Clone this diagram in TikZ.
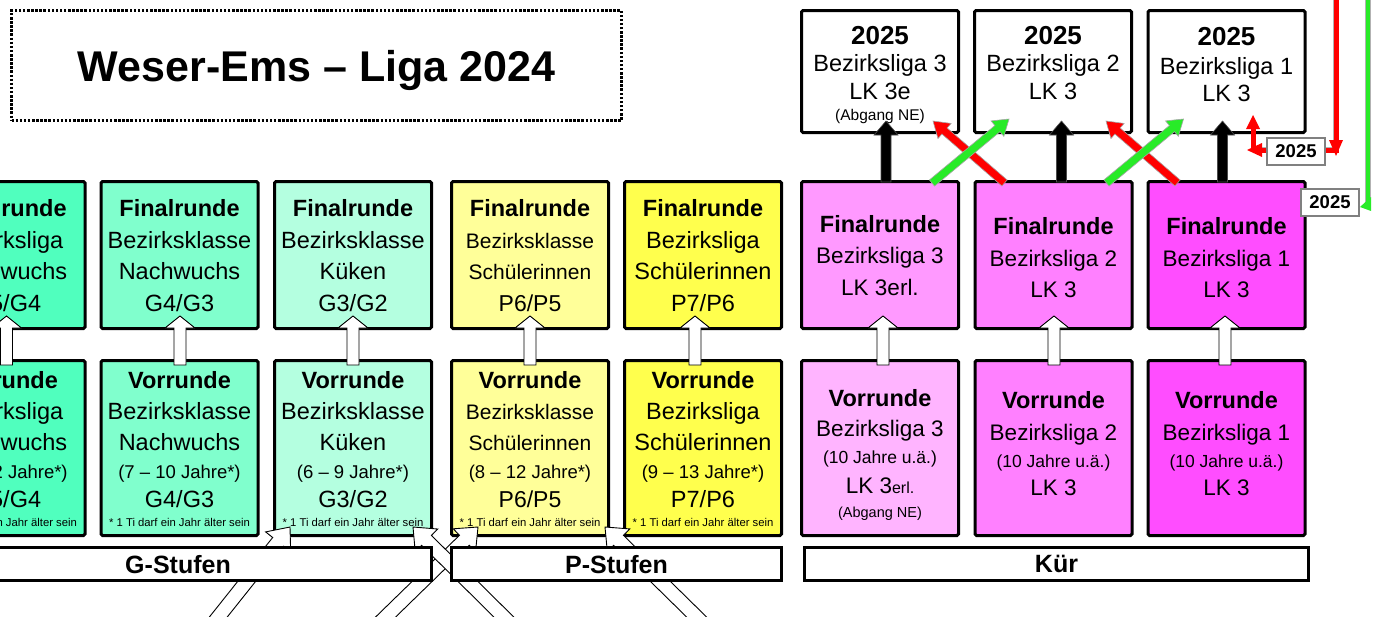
\documentclass[tikz,border=0pt]{standalone}
\usepackage{fontspec}
\setmainfont{Liberation Sans}
\usetikzlibrary{calc}
\definecolor{gA}{RGB}{80,255,190}
\definecolor{gB}{RGB}{128,255,205}
\definecolor{gC}{RGB}{180,255,224}
\definecolor{yA}{RGB}{255,255,153}
\definecolor{yB}{RGB}{255,255,77}
\definecolor{pA}{RGB}{255,153,255}
\definecolor{pAv}{RGB}{255,180,255}
\definecolor{pB}{RGB}{255,128,255}
\definecolor{pC}{RGB}{255,77,255}
\definecolor{arrR}{RGB}{255,0,0}
\definecolor{arrG}{RGB}{40,235,40}
\newcommand\fsH{\fontsize{23.5}{31.5}\selectfont\bfseries}
\newcommand\fsY{\fontsize{26}{28}\selectfont\bfseries}
\newcommand\fsJ{\fontsize{18.5}{20}\selectfont}
\newcommand\fsU{\fontsize{17.5}{20}\selectfont}
\newcommand\fsA{\fontsize{14.5}{16}\selectfont}
\newcommand\fsE{\fontsize{16}{18}\selectfont}
\newcommand\fsN{\fontsize{11.3}{13}\selectfont}
\newcommand\fsP{\fontsize{23}{26}\selectfont}
% block arrow: [style]{start}{end}{half shaft}{half head}{head length}
\newcommand\blockarrow[6][]{%
  \path[#1] let \p1=(#2), \p2=(#3),
     \n1={atan2(\y2-\y1,\x2-\x1)},
     \n3={veclen(\x2-\x1,\y2-\y1)-#6} in
   ($(\p1)+(\n1+90:#4)$) -- ($(\p1)+(\n1+90:#4)+(\n1:\n3)$)
   -- ($(\p1)+(\n1+90:#5)+(\n1:\n3)$) -- (\p2)
   -- ($(\p1)+(\n1-90:#5)+(\n1:\n3)$) -- ($(\p1)+(\n1-90:#4)+(\n1:\n3)$)
   -- ($(\p1)+(\n1-90:#4)$) -- cycle;}
\tikzset{
 bx/.style={draw=black, line width=3pt, rounded corners=1.5pt, minimum width=157pt, inner sep=0pt},
 rowF/.style={bx, minimum height=147pt},
 rowV/.style={bx, minimum height=175pt},
 rowT/.style={bx, fill=white, minimum height=122pt},
 tx/.style={align=center, inner sep=0pt, font=\fontsize{23.5}{31.5}\selectfont},
 txs/.style={align=center, inner sep=0pt, font=\fontsize{21}{31.5}\selectfont},
 txv/.style={align=center, inner sep=0pt, font=\fontsize{23.5}{31}\selectfont},
 txvs/.style={align=center, inner sep=0pt, font=\fontsize{21}{31}\selectfont},
 txr/.style={align=center, inner sep=0pt, font=\fontsize{22.5}{31.5}\selectfont},
 txrv/.style={align=center, inner sep=0pt, font=\fontsize{22.5}{31}\selectfont},
 txt/.style={align=center, inner sep=0pt, font=\fontsize{23.5}{27.5}\selectfont},
 bar/.style={draw=black, line width=3pt, fill=white, inner sep=0pt, minimum height=33pt, text depth=0pt, font=\fontsize{25}{30}\selectfont\bfseries},
 smallyear/.style={draw=gray, line width=2pt, fill=white, minimum width=58pt, minimum height=27pt, inner sep=0pt, text depth=0pt, font=\fontsize{18.5}{20}\selectfont\bfseries},
 warr/.style={draw=black, fill=white, line width=0.9pt},
 barr/.style={draw=gray!60!black, fill=black, line width=0.6pt},
 rarr/.style={draw=gray!70, fill=arrR, line width=0.6pt},
 garr/.style={draw=gray!70, fill=arrG, line width=0.6pt},
 redln/.style={draw=arrR, line width=5pt},
 grnln/.style={draw=arrG, line width=4pt},
 lnedge/.style={draw=gray!60, line width=6.2pt},
}
\begin{document}
\begin{tikzpicture}[x=1pt,y=-1pt]
\useasboundingbox (0,0) rectangle (1381,616);
\clip (0,0) rectangle (1381,616);

% title
\node[draw=black, line width=2.5pt, dash pattern=on 2.5pt off 1.6pt, minimum width=610pt, minimum height=110pt,
      inner sep=0pt, text depth=0pt, font=\fontsize{43}{50}\selectfont\bfseries] (title) at (316.5,65.5) {Weser-Ems – Liga 2024};

% ---- boxes, top row (Finalrunde)
\node[rowF, fill=gA] (f0) at (6.5,255) {};
\node[rowF, fill=gB] (f1) at (179.5,255) {};
\node[rowF, fill=gC] (f2) at (353,255) {};
\node[rowF, fill=yA] (f3) at (530,255) {};
\node[rowF, fill=yB] (f4) at (703,255) {};
\node[rowF, fill=pA] (f5) at (880,255) {};
\node[rowF, fill=pB] (f6) at (1053.5,255) {};
\node[rowF, fill=pC] (f7) at (1226.5,255) {};
% ---- boxes, bottom row (Vorrunde)
\node[rowV, fill=gA] (v0) at (6.5,448) {};
\node[rowV, fill=gB] (v1) at (179.5,448) {};
\node[rowV, fill=gC] (v2) at (353,448) {};
\node[rowV, fill=yA] (v3) at (530,448) {};
\node[rowV, fill=yB] (v4) at (703,448) {};
\node[rowV, fill=pAv] (v5) at (880,448) {};
\node[rowV, fill=pB] (v6) at (1053.5,448) {};
\node[rowV, fill=pC] (v7) at (1226.5,448) {};
% ---- 2025 boxes
\node[rowT] (t5) at (880,71.5) {};
\node[rowT] (t6) at (1053,71.5) {};
\node[rowT] (t7) at (1226.5,71.5) {};

% ---- texts
\node[tx] (f0t) at (6.5,255.5) {{\fsH Finalrunde}\\Bezirksliga\\Nachwuchs\\G5/G4};
\node[tx] (f1t) at (179.5,255.5) {{\fsH Finalrunde}\\Bezirksklasse\\Nachwuchs\\G4/G3};
\node[tx] (f2t) at (353,255.5) {{\fsH Finalrunde}\\Bezirksklasse\\Küken\\G3/G2};
\node[txs] (f3t) at (530,255.5) {{\fsH Finalrunde}\\Bezirksklasse\\Schülerinnen\\{\fsP P6/P5}};
\node[tx] (f4t) at (703,255.5) {{\fsH Finalrunde}\\Bezirksliga\\Schülerinnen\\P7/P6};

\node[txv] (v0t) at (6.5,449) {{\fsH Vorrunde}\\Bezirksliga\\Nachwuchs\\[-3pt]{\fsJ (8 – 12 Jahre*)}\\[-2pt]G5/G4\\[-12pt]{\fsN * 1 Ti darf ein Jahr älter sein}};
\node[txv] (v1t) at (179.5,449) {{\fsH Vorrunde}\\Bezirksklasse\\Nachwuchs\\[-3pt]{\fsJ (7 – 10 Jahre*)}\\[-2pt]G4/G3\\[-12pt]{\fsN * 1 Ti darf ein Jahr älter sein}};
\node[txv] (v2t) at (353,449) {{\fsH Vorrunde}\\Bezirksklasse\\Küken\\[-3pt]{\fsJ (6 – 9 Jahre*)}\\[-2pt]G3/G2\\[-12pt]{\fsN * 1 Ti darf ein Jahr älter sein}};
\node[txvs] (v3t) at (530,449) {{\fsH Vorrunde}\\Bezirksklasse\\Schülerinnen\\[-3pt]{\fsJ (8 – 12 Jahre*)}\\[-2pt]{\fsP P6/P5}\\[-12pt]{\fsN * 1 Ti darf ein Jahr älter sein}};
\node[txv] (v4t) at (703,449) {{\fsH Vorrunde}\\Bezirksliga\\Schülerinnen\\[-3pt]{\fsJ (9 – 13 Jahre*)}\\[-2pt]P7/P6\\[-12pt]{\fsN * 1 Ti darf ein Jahr älter sein}};

\node[txr] (f5t) at (880,255.5) {{\fsH Finalrunde}\\Bezirksliga 3\\LK 3erl.};
\node[txr] (f6t) at (1053.5,258) {{\fsH Finalrunde}\\Bezirksliga 2\\LK 3};
\node[txr] (f7t) at (1226.5,258) {{\fsH Finalrunde}\\Bezirksliga 1\\LK 3};

\node[txrv] (v5t) at (880,455) {{\fsH Vorrunde}\\[-1pt]Bezirksliga 3\\[-4pt]{\fsU (10 Jahre u.ä.)}\\[-1pt]LK 3{\fsE erl.}\\[-7pt]{\fsA (Abgang NE)}};
\node[txrv] (v6t) at (1053.5,443.5) {{\fsH Vorrunde}\\[1pt]Bezirksliga 2\\[-4pt]{\fsU (10 Jahre u.ä.)}\\[-3pt]LK 3};
\node[txrv] (v7t) at (1226.5,443.5) {{\fsH Vorrunde}\\[1pt]Bezirksliga 1\\[-4pt]{\fsU (10 Jahre u.ä.)}\\[-3pt]LK 3};

\node[txt] (t5t) at (880,75) {{\fsY 2025}\\Bezirksliga 3\\LK 3e\\[-6.5pt]{\fontsize{15.5}{17}\selectfont (Abgang NE)}};
\node[txt] (t6t) at (1053,63) {{\fsY 2025}\\Bezirksliga 2\\LK 3};
\node[txt] (t7t) at (1226.5,64.5) {{\fsY 2025}\\[1.5pt]Bezirksliga 1\\LK 3};

% ---- white arrows Vorrunde -> Finalrunde
\foreach \i/\dx in {0/0,1/0.5,2/0,3/0,4/-8,5/3,6/0.5,7/-1.5}{
  \coordinate (a\i) at ($(v\i.north)+(\dx,6)$);
  \coordinate (b\i) at ($(f\i.south)+(\dx,-14)$);
  \blockarrow[warr]{a\i}{b\i}{6pt}{15pt}{12}
}

% ---- diagonal white arrows from below
\coordinate (dA0) at (200,640); \coordinate (dA1) at (290,527);
\coordinate (dB0) at (362,640); \coordinate (dB1) at (478,527);
\coordinate (dC0) at (527,640); \coordinate (dC1) at (413,527);
\coordinate (dD0) at (720,640); \coordinate (dD1) at (605,527);
\blockarrow[warr]{dA0}{dA1}{7pt}{16pt}{19}
\blockarrow[warr]{dB0}{dB1}{7pt}{16pt}{19}
\blockarrow[warr]{dC0}{dC1}{7pt}{16pt}{19}
\blockarrow[warr]{dD0}{dD1}{7pt}{16pt}{19}

% ---- bars
\node[bar, minimum width=507pt] (gst) at (178,564) {G-Stufen};
\node[bar, minimum width=330pt] (pst) at (616.5,564) {P-Stufen};
\node[bar, minimum width=504pt] (kur) at (1056.5,564) {Kür};

% ---- black arrows Finalrunde -> 2025
\coordinate (k5a) at ($(f5.north)+(6,2)$);  \coordinate (k5b) at ($(t5.south)+(6,-13)$);
\coordinate (k6a) at ($(f6.north)+(8,2)$);  \coordinate (k6b) at ($(t6.south)+(8.5,-13)$);
\coordinate (k7a) at ($(f7.north)+(-4,2)$); \coordinate (k7b) at ($(t7.south)+(-4,-13)$);
\blockarrow[barr]{k5a}{k5b}{5pt}{12pt}{14}
\blockarrow[barr]{k6a}{k6b}{5pt}{12pt}{14}
\blockarrow[barr]{k7a}{k7b}{5pt}{12pt}{14}

% ---- red (down) and green (up) arrows
\coordinate (r1a) at ($(f6.north)+(-49,3)$); \coordinate (r1b) at ($(t5.south)+(53,-13)$);
\coordinate (g1a) at ($(f5.north)+(52,3)$);  \coordinate (g1b) at ($(t6.south)+(-44,-15)$);
\coordinate (r2a) at ($(f7.north)+(-49,3)$); \coordinate (r2b) at ($(t6.south)+(53,-13)$);
\coordinate (g2a) at ($(f6.north)+(53,3)$);  \coordinate (g2b) at ($(t7.south)+(-43,-15)$);
\blockarrow[rarr]{r1a}{r1b}{4pt}{10pt}{15}
\blockarrow[garr]{g1a}{g1b}{4pt}{10pt}{15}
\blockarrow[rarr]{r2a}{r2b}{4pt}{10pt}{15}
\blockarrow[garr]{g2a}{g2b}{4pt}{10pt}{15}

% ---- right-hand elbow lines
\coordinate (rA) at (1336,-6); \coordinate (rB) at (1336,150); \coordinate (rC) at (1260,150);
\coordinate (rD) at (1253,150); \coordinate (rE) at (1253,127);
\draw[lnedge] (rA) -- (rB) -- (rC);
\draw[redln] (rA) -- (rB) -- (rC);
\draw[redln] (rD) -- (rE);
\fill[arrR] (1329,140) -- (1343,140) -- (1336,156) -- cycle;
\fill[arrR] (1262,143) -- (1262,157) -- (1247,150) -- cycle;
\fill[arrR] (1246,129) -- (1260,129) -- (1253,115) -- cycle;

\coordinate (gA) at (1368,-6); \coordinate (gB) at (1368,203);
\draw[draw=gray!60, line width=5.5pt] (gA) -- (gB);
\draw[grnln] (gA) -- (gB);
\fill[arrG] (1371,197) -- (1371,211) -- (1360,207) -- cycle;

\node[smallyear] (s1) at (1296,151.5) {2025};
\node[smallyear] (s2) at (1330,202.5) {2025};
\end{tikzpicture}
\end{document}
